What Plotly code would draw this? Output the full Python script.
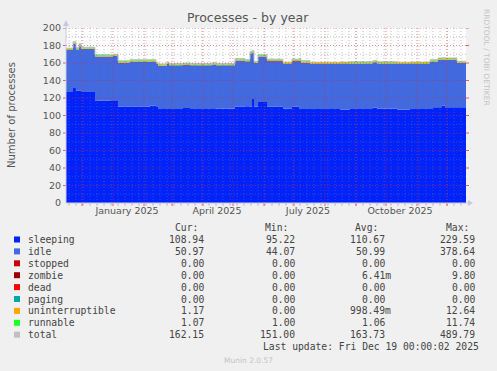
import pandas as pd
import plotly.graph_objects as go

# ---------------- data ----------------
start = pd.Timestamp("2024-11-15")
day = [0, 7, 10, 13, 15, 29, 44, 47, 52, 64, 84, 90, 92, 101, 103, 117, 124, 146, 150, 169,
       179, 184, 186, 188, 192, 201, 217, 226, 233, 235, 244, 274, 284, 307, 311, 331, 344,
       364, 367, 372, 376, 379, 391, 400]
sleeping = [127, 131.5, 128.5, 128.5, 127, 117, 116.5, 117.5, 110.3, 110.3, 111.3, 110.5, 107.5,
            107.5, 107.5, 108.5, 107.5, 108.3, 107.8, 110, 110.5, 110, 119, 110, 115.5, 110,
            107.8, 110, 107.5, 107.5, 107.5, 106.5, 107.5, 109, 107.8, 106.5, 107.5, 107.5,
            109.5, 109.5, 111.5, 109.5, 109.5, 109]
idle = [47.9, 50.4, 46.9, 51.4, 48.9, 50.4, 50.4, 50.4, 50.1, 51.4, 50.4, 48.4, 49.4, 51.4, 49.9,
        49.4, 49.9, 50.1, 49.6, 52.9, 51.4, 60.9, 52.9, 49.9, 51.9, 52.4, 51.1, 52.4, 54.9, 52.9,
        51.4, 52.4, 51.9, 51.9, 51.6, 52.4, 51.4, 54.2, 52.2, 54.1, 52.4, 54.1, 50.4, 51.0]
stopped = [0.0] * len(day)
zombie = [0.0] * len(day)
dead = [0.0] * len(day)
paging = [0.0] * len(day)
uninterruptible = [1.0, 1.2, 1.0, 1.1, 1.0, 1.0, 1.0, 1.1, 1.0, 1.0, 1.0, 1.0, 1.0, 1.0, 1.0,
                   1.0, 1.0, 1.0, 1.0, 1.0, 1.0, 1.2, 1.0, 1.0, 1.0, 1.0, 1.0, 1.0, 1.4, 1.2,
                   1.0, 1.1, 1.0, 1.0, 1.0, 1.0, 1.1, 1.0, 1.0, 1.0, 1.2, 1.0, 1.0, 1.17]
runnable = [1.1, 1.2, 1.1, 1.1, 1.1, 1.1, 1.1, 1.0, 1.1, 1.0, 1.1, 1.1, 1.0, 1.1, 1.1, 1.0, 1.1,
            1.0, 1.1, 1.1, 1.0, 1.1, 1.1, 1.0, 1.1, 1.0, 1.1, 1.0, 1.1, 1.1, 1.0, 1.1, 1.1, 1.0,
            1.1, 1.0, 1.1, 1.0, 1.1, 1.1, 1.0, 1.1, 1.1, 1.07]

legend_names = ["sleeping", "idle", "stopped", "zombie", "dead", "paging",
                "uninterruptible", "runnable", "total"]
legend_colors = ["#0022ff", "#4169e1", "#cc0000", "#990000", "#ff0000", "#00aaaa",
                 "#ffa500", "#22ff22", "#c0c0c0"]
cur_vals = ["108.94", "50.97", "0.00", "0.00", "0.00", "0.00", "1.17", "1.07", "162.15"]
min_vals = ["95.22", "44.07", "0.00", "0.00", "0.00", "0.00", "0.00", "1.00", "151.00"]
avg_vals = ["110.67", "50.99", "0.00", "6.41m", "0.00", "0.00", "998.49m", "1.06", "163.73"]
max_vals = ["229.59", "378.64", "0.00", "9.80", "0.00", "0.00", "12.64", "11.74", "489.79"]

x_labels = ["January 2025", "April 2025", "July 2025", "October 2025"]
x_label_dates = ["2025-01-15", "2025-04-15", "2025-07-15", "2025-10-15"]
y_ticks = [0, 20, 40, 60, 80, 100, 120, 140, 160, 180, 200]

# ---------------- geometry ----------------
W, H = 497, 371
L, R, T, B = 66, 466, 28, 203
PW, PH = R - L, B - T


def px(x):
    return (x - L) / PW


def py(y):
    return (B - y) / PH


dates = [start + pd.Timedelta(days=d) for d in day]
x_end = start + pd.Timedelta(days=400)

stack_series = [sleeping, idle, stopped, zombie, dead, paging, uninterruptible, runnable]
fig = go.Figure()
cum = [0.0] * len(day)
for i, s in enumerate(stack_series):
    cum = [a + b for a, b in zip(cum, s)]
    fig.add_trace(go.Scatter(
        x=dates, y=cum, mode="lines", line=dict(width=0, shape="hv", color=legend_colors[i]),
        fill="tozeroy" if i == 0 else "tonexty", fillcolor=legend_colors[i],
        showlegend=False, hoverinfo="skip"))
total = cum
fig.add_trace(go.Scatter(x=dates, y=total, mode="lines",
                         line=dict(width=1, shape="hv", color="#c0c0c0"),
                         showlegend=False, hoverinfo="skip"))

shapes = []
minor_col = "rgba(120,120,120,0.45)"
major_col = "rgba(220,40,40,0.55)"
# vertical grid: weeks (Mondays) and month starts
week = pd.Timestamp("2024-11-18")
while week < x_end:
    shapes.append(dict(type="line", xref="x", yref="paper", x0=week, x1=week, y0=0, y1=1,
                       line=dict(color=minor_col, width=1, dash="1px,2px"), layer="above"))
    shapes.append(dict(type="line", xref="x", yref="paper", x0=week, x1=week, y0=0, y1=-2.5 / PH,
                       line=dict(color="rgba(150,150,150,0.7)", width=1), layer="above"))
    week += pd.Timedelta(days=7)
month = pd.Timestamp("2024-12-01")
while month < x_end:
    shapes.append(dict(type="line", xref="x", yref="paper", x0=month, x1=month, y0=0, y1=1,
                       line=dict(color=major_col, width=1, dash="1px,2px"), layer="above"))
    shapes.append(dict(type="line", xref="x", yref="paper", x0=month, x1=month, y0=0, y1=-3 / PH,
                       line=dict(color="rgba(230,80,80,0.9)", width=1), layer="above"))
    month = month + pd.DateOffset(months=1)
# horizontal grid
for v in range(10, 201, 10):
    major = v % 20 == 0
    shapes.append(dict(type="line", xref="paper", yref="y", x0=0, x1=1, y0=v, y1=v,
                       line=dict(color=major_col if major else minor_col, width=1, dash="1px,2px"),
                       layer="above"))
    if major:
        shapes.append(dict(type="line", xref="paper", yref="y", x0=1, x1=1 + 3 / PW, y0=v, y1=v,
                           line=dict(color="rgba(230,80,80,0.9)", width=1), layer="above"))
        shapes.append(dict(type="line", xref="paper", yref="y", x0=-3 / PW, x1=0, y0=v, y1=v,
                           line=dict(color="rgba(230,80,80,0.9)", width=1), layer="above"))
# axis lines and arrows
axis_col = "#c8c8e6"
shapes.append(dict(type="line", xref="paper", yref="paper", x0=0, x1=px(469), y0=0, y1=0,
                   line=dict(color=axis_col, width=1), layer="above"))
shapes.append(dict(type="line", xref="paper", yref="paper", x0=0, x1=0, y0=0, y1=py(24),
                   line=dict(color=axis_col, width=1), layer="above"))
shapes.append(dict(type="path", xref="paper", yref="paper",
                   path=f"M {px(468)},{py(200)} L {px(473)},{py(203)} L {px(468)},{py(206)} Z",
                   fillcolor=axis_col, line=dict(width=0), layer="above"))
shapes.append(dict(type="path", xref="paper", yref="paper",
                   path=f"M {px(63)},{py(26)} L {px(66)},{py(20)} L {px(69)},{py(26)} Z",
                   fillcolor=axis_col, line=dict(width=0), layer="above"))

annotations = []
txt = "#444444"
mono = "DejaVu Sans Mono"
fs = 9.7


def ann(text, x, y, anchor="left", size=fs, color=txt, family=mono, angle=0):
    annotations.append(dict(text=text, x=px(x), y=py(y), xref="paper", yref="paper",
                            xanchor=anchor, yanchor="middle", showarrow=False, textangle=angle,
                            font=dict(family=family, size=size, color=color)))


# legend header
row0 = 227.5
ann("Cur:", 200, row0, "right")
ann("Min:", 290, row0, "right")
ann("Avg:", 380, row0, "right")
ann("Max:", 471, row0, "right")
for i, name in enumerate(legend_names):
    y = 239.5 + 11.9 * i
    shapes.append(dict(type="rect", xref="paper", yref="paper",
                       x0=px(14), x1=px(20), y0=py(y + 3), y1=py(y - 3),
                       fillcolor=legend_colors[i], line=dict(width=0), layer="above"))
    ann(name, 26, y, "left")
    ann(cur_vals[i], 206, y, "right")
    ann(min_vals[i], 297, y, "right")
    a = avg_vals[i]
    ann(a, 393 if a.endswith("m") else 387, y, "right")
    ann(max_vals[i], 477, y, "right")
ann("Last update: Fri Dec 19 00:00:02 2025", 481, 239.5 + 11.9 * 9, "right")

sans = "DejaVu Sans"
ann("Processes - by year", 248, 18, "center", size=12.5, color="#555555", family=sans)
ann("Number of processes", 11, 115, "center", size=10, color="#555555", family=sans, angle=-90)
ann("RRDTOOL / TOBI OETIKER", 487, 57, "center", size=7.5, color="#c4c4c4", family=sans, angle=90)
ann("Munin 2.0.57", 248, 360, "center", size=7.5, color="#c4c4c4", family=sans)

fig.update_layout(
    width=W, height=H, autosize=False,
    margin=dict(l=L, r=W - R, t=T, b=H - B, pad=0),
    paper_bgcolor="#f0f0f0", plot_bgcolor="#ffffff",
    showlegend=False,
    shapes=shapes, annotations=annotations,
    xaxis=dict(type="date", range=[start, x_end], tickvals=x_label_dates, ticktext=x_labels,
               ticks="", showgrid=False, zeroline=False, showline=False, fixedrange=True,
               tickfont=dict(family=sans, size=9.5, color="#555555")),
    yaxis=dict(range=[0, 200], tickvals=y_ticks, ticks="", showgrid=False, zeroline=False,
               showline=False, fixedrange=True, ticklabelstandoff=4,
               tickfont=dict(family=sans, size=9.5, color="#555555")),
)

fig.write_html(
    "out.html",
    config={"displayModeBar": False, "staticPlot": True},
    post_script="document.body.style.margin='0px';document.body.style.background='#f0f0f0';",
)
